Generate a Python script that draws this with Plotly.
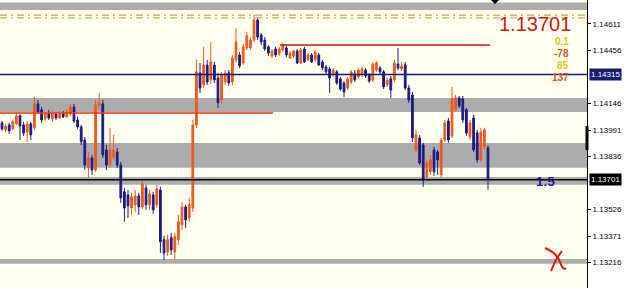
import plotly.graph_objects as go

# ---- data (EURUSD-like candles) ----
opens = [1.14033,1.13992,1.14021,1.13998,1.14027,1.14074,1.14021,1.13980,1.14027,1.14004,
         1.14144,1.14109,1.14056,1.14091,1.14056,1.14085,1.14062,1.14091,1.14068,1.14085,
         1.14126,1.14050,1.14009,1.13933,1.13770,1.13828,1.13758,1.14132,1.14144,1.13875,
         1.13787,1.13834,1.13863,1.13787,1.13630,1.13612,1.13536,1.13554,1.13606,1.13542,
         1.13653,1.13554,1.13612,1.13554,1.13641,1.13350,1.13279,1.13361,1.13279,1.13350,
         1.13437,1.13542,1.13478,1.13536,1.14021,1.14325,1.14255,1.14371,1.14284,1.14371,
         1.14295,1.14167,1.14272,1.14325,1.14272,1.14401,1.14430,1.14383,1.14471,1.14471,
         1.14517,1.14634,1.14547,1.14517,1.14477,1.14424,1.14465,1.14436,1.14459,1.14471,
         1.14412,1.14424,1.14453,1.14383,1.14465,1.14401,1.14430,1.14401,1.14430,1.14389,
         1.14360,1.14348,1.14313,1.14331,1.14290,1.14266,1.14237,1.14272,1.14319,1.14301,
         1.14313,1.14342,1.14313,1.14284,1.14342,1.14354,1.14331,1.14255,1.14290,1.14284,
         1.14377,1.14348,1.14371,1.14237,1.14196,1.13875,1.13945,1.13904,1.13717,1.13747,
         1.13875,1.13863,1.13729,1.13933,1.14044,1.13957,1.14109,1.14179,1.14173,1.14109,
         1.13951,1.14062,1.13974,1.13817,1.13893,1.13887]
highs = [1.14044,1.14027,1.14033,1.14050,1.14091,1.14085,1.14039,1.14044,1.14039,1.14185,
         1.14167,1.14126,1.14097,1.14109,1.14103,1.14097,1.14103,1.14103,1.14114,1.14144,
         1.14144,1.14068,1.14021,1.13951,1.13863,1.13846,1.14167,1.14208,1.14167,1.13904,
         1.14004,1.13963,1.13887,1.13805,1.13653,1.13641,1.13624,1.13641,1.13624,1.13694,
         1.13671,1.13641,1.13630,1.13671,1.13659,1.13373,1.13379,1.13390,1.13390,1.13495,
         1.13571,1.13554,1.13595,1.14050,1.14401,1.14383,1.14477,1.14401,1.14506,1.14389,
         1.14325,1.14331,1.14342,1.14342,1.14430,1.14588,1.14447,1.14494,1.14564,1.14529,
         1.14663,1.14646,1.14558,1.14535,1.14488,1.14465,1.14477,1.14477,1.14500,1.14482,
         1.14453,1.14459,1.14465,1.14471,1.14477,1.14441,1.14441,1.14459,1.14441,1.14401,
         1.14371,1.14360,1.14354,1.14342,1.14301,1.14278,1.14301,1.14342,1.14342,1.14354,
         1.14360,1.14354,1.14325,1.14389,1.14395,1.14366,1.14342,1.14295,1.14307,1.14401,
         1.14471,1.14389,1.14389,1.14255,1.14214,1.13992,1.13963,1.13916,1.13817,1.13846,
         1.13893,1.13875,1.13945,1.14050,1.14062,1.14243,1.14196,1.14190,1.14190,1.14120,
         1.14050,1.14079,1.13992,1.14004,1.14004,1.13904]
lows = [1.13986,1.13980,1.13968,1.13992,1.14021,1.13933,1.13957,1.13922,1.13933,1.13992,
        1.14085,1.14033,1.14044,1.14050,1.14039,1.14050,1.14056,1.14062,1.14062,1.14074,
        1.14033,1.13998,1.13904,1.13758,1.13712,1.13729,1.13747,1.14109,1.13828,1.13758,
        1.13770,1.13817,1.13770,1.13566,1.13455,1.13478,1.13495,1.13513,1.13495,1.13530,
        1.13525,1.13525,1.13501,1.13536,1.13273,1.13232,1.13256,1.13262,1.13232,1.13320,
        1.13408,1.13420,1.13455,1.13513,1.14004,1.14208,1.14237,1.14255,1.14260,1.14266,
        1.14120,1.14144,1.14255,1.14249,1.14255,1.14389,1.14354,1.14371,1.14459,1.14459,
        1.14506,1.14517,1.14488,1.14453,1.14424,1.14412,1.14418,1.14424,1.14447,1.14418,
        1.14406,1.14412,1.14377,1.14377,1.14383,1.14395,1.14383,1.14389,1.14366,1.14342,
        1.14319,1.14208,1.14301,1.14255,1.14220,1.14185,1.14225,1.14260,1.14272,1.14290,
        1.14301,1.14295,1.14266,1.14272,1.14331,1.14319,1.14231,1.14243,1.14179,1.14272,
        1.14342,1.14336,1.14225,1.14150,1.13922,1.13863,1.13787,1.13659,1.13700,1.13729,
        1.13723,1.13729,1.13712,1.13922,1.13916,1.13945,1.14097,1.14120,1.14033,1.13957,
        1.13933,1.13863,1.13799,1.13805,1.13875,1.13641]
closes = [1.13998,1.14015,1.13986,1.14039,1.14074,1.14015,1.13974,1.14027,1.13963,1.14144,
          1.14097,1.14050,1.14085,1.14062,1.14085,1.14062,1.14085,1.14068,1.14097,1.14126,
          1.14044,1.14009,1.13922,1.13787,1.13828,1.13758,1.14138,1.14150,1.13846,1.13787,
          1.13875,1.13875,1.13787,1.13595,1.13536,1.13548,1.13601,1.13606,1.13542,1.13676,
          1.13554,1.13618,1.13525,1.13647,1.13338,1.13273,1.13350,1.13291,1.13367,1.13455,
          1.13542,1.13466,1.13554,1.14021,1.14331,1.14237,1.14371,1.14272,1.14389,1.14284,
          1.14150,1.14313,1.14325,1.14266,1.14412,1.14506,1.14366,1.14477,1.14541,1.14517,
          1.14634,1.14535,1.14506,1.14465,1.14441,1.14453,1.14430,1.14465,1.14488,1.14430,
          1.14441,1.14453,1.14383,1.14459,1.14389,1.14430,1.14389,1.14447,1.14371,1.14354,
          1.14331,1.14295,1.14342,1.14266,1.14231,1.14214,1.14290,1.14331,1.14284,1.14342,
          1.14348,1.14307,1.14278,1.14377,1.14383,1.14331,1.14243,1.14284,1.14225,1.14383,
          1.14354,1.14366,1.14237,1.14167,1.13945,1.13963,1.13799,1.13700,1.13799,1.13817,
          1.13747,1.13817,1.13933,1.14033,1.13933,1.14173,1.14179,1.14132,1.14050,1.13974,
          1.14033,1.13875,1.13817,1.13980,1.13992,1.13701]
bars = list(range(len(opens)))

# price axis labels
tick_vals = [1.14611, 1.14456, 1.14146, 1.13991, 1.13836, 1.13526, 1.13371, 1.13216, 1.13061]
tick_text = [f"{v:.5f}" for v in tick_vals]

# levels drawn on the chart
top_band = (1.14693, 1.14736)
dash_levels = [1.14663, 1.14646]
zone_upper = (1.14097, 1.14179)
zone_mid = (1.13770, 1.13916)
zone_bid = (1.13671, 1.13717)
zone_low = (1.13209, 1.13238)
navy_level = 1.14315
bid_level = 1.13701
red_left = (0, 75.3, 1.14091)
red_upper = (77.2, 135.6, 1.14488)

# info panel texts
info_labels = ["0.1", "-78", "85", "137"]
info_colors = ["#f0c020", "#e0501a", "#f0c020", "#e0501a"]

BG = "#fffff0"
GRAY = "#acacac"
UP = "#ec5a1e"
DOWN = "#1c1c84"
FONT = "Liberation Sans, Arial"

fig = go.Figure()
fig.add_trace(go.Candlestick(
    x=bars, open=opens, high=highs, low=lows, close=closes,
    increasing=dict(line=dict(color=UP, width=1), fillcolor=UP),
    decreasing=dict(line=dict(color=DOWN, width=1), fillcolor=DOWN),
    whiskerwidth=0, showlegend=False, hoverinfo="skip"))

shapes = []
for lo, hi in [top_band, zone_upper, zone_mid, zone_bid, zone_low]:
    shapes.append(dict(type="rect", xref="paper", yref="y", x0=0, x1=1, y0=lo, y1=hi,
                       fillcolor=GRAY, line=dict(width=0), layer="below"))
for lv, col in zip(dash_levels, ["#c9a05a", "#e0a646"]):
    shapes.append(dict(type="line", xref="paper", yref="y", x0=0, x1=1, y0=lv, y1=lv,
                       line=dict(color=col, width=1.2, dash="7px,4px,2px,4px")))
shapes.append(dict(type="line", xref="paper", yref="y", x0=0, x1=1, y0=navy_level, y1=navy_level,
                   line=dict(color="#1a1a6e", width=1.5)))
shapes.append(dict(type="line", xref="paper", yref="y", x0=0, x1=1, y0=bid_level, y1=bid_level,
                   line=dict(color="#000000", width=1.5)))
shapes.append(dict(type="line", xref="x", yref="y", x0=red_left[0] - 1, x1=red_left[1],
                   y0=red_left[2], y1=red_left[2], line=dict(color="#ff2a10", width=1.5)))
shapes.append(dict(type="line", xref="x", yref="y", x0=red_upper[0], x1=red_upper[1],
                   y0=red_upper[2], y1=red_upper[2], line=dict(color="#cc1414", width=1.5)))

W = 587.0
H = 288.0
def px(x, y):
    return f"{x / W:.5f},{1 - y / H:.5f}"

# hand-drawn red X
shapes.append(dict(type="path", xref="paper", yref="paper",
                   path=f"M {px(545,248)} Q {px(557,253)} {px(560,262)} T {px(566,268)}",
                   line=dict(color="#e01414", width=2)))
shapes.append(dict(type="path", xref="paper", yref="paper",
                   path=f"M {px(562,251)} Q {px(556,259)} {px(554,264)} T {px(551,271)}",
                   line=dict(color="#e01414", width=2)))
# small marker at top
shapes.append(dict(type="path", xref="paper", yref="paper",
                   path=f"M {px(491,0)} L {px(499,0)} L {px(495,4)} Z",
                   fillcolor="#000000", line=dict(width=0)))
# scroll mark on axis
shapes.append(dict(type="rect", xref="paper", yref="paper",
                   x0=585.5 / W, x1=588.5 / W, y0=1 - 150 / H, y1=1 - 126 / H,
                   fillcolor="#000000", line=dict(width=0)))

ann = []
ann.append(dict(xref="paper", yref="paper", x=535 / W, y=1 - 24.5 / H, text="1.13701",
                xanchor="center", yanchor="middle", showarrow=False, borderpad=0,
                font=dict(family=FONT, size=20, color="#d01818")))
for k, (txt, col) in enumerate(zip(info_labels, info_colors)):
    yy = 41 + 12 * k
    ann.append(dict(xref="paper", yref="paper", x=570 / W, y=1 - yy / H, xanchor="right",
                    yanchor="middle", text=f"<b>{txt}</b>", showarrow=False, borderpad=0,
                    font=dict(family=FONT, size=10, color=col)))
ann.append(dict(xref="paper", yref="paper", x=545 / W, y=1 - 181 / H, text="<b>1:5</b>",
                xanchor="center", yanchor="middle", showarrow=False,
                font=dict(family=FONT, size=13, color="#1a1a8c")))
for lv, bg in [(navy_level, "#1a1a6e"), (bid_level, "#000000")]:
    ann.append(dict(xref="paper", yref="y", x=1, y=lv, xanchor="left", yanchor="middle", xshift=2,
                    text=f"{lv:.5f}", showarrow=False, bgcolor=bg, borderpad=1,
                    font=dict(family=FONT, size=8, color="#ffffff")))

fig.update_layout(
    width=625, height=288,
    margin=dict(l=0, r=38, t=0, b=0),
    paper_bgcolor="#ffffff", plot_bgcolor=BG,
    shapes=shapes, annotations=ann,
    xaxis=dict(visible=False, range=[-0.556, 162.5], rangeslider=dict(visible=False), fixedrange=True),
    yaxis=dict(side="right", range=[1.13068, 1.14751], tickvals=tick_vals, ticktext=tick_text,
               showgrid=False, zeroline=False, showline=True, linecolor="#000000", linewidth=1,
               ticks="outside", ticklen=3, tickcolor="#000000",
               tickfont=dict(family=FONT, size=8, color="#000000")),
)

fig.write_html("out.html")
